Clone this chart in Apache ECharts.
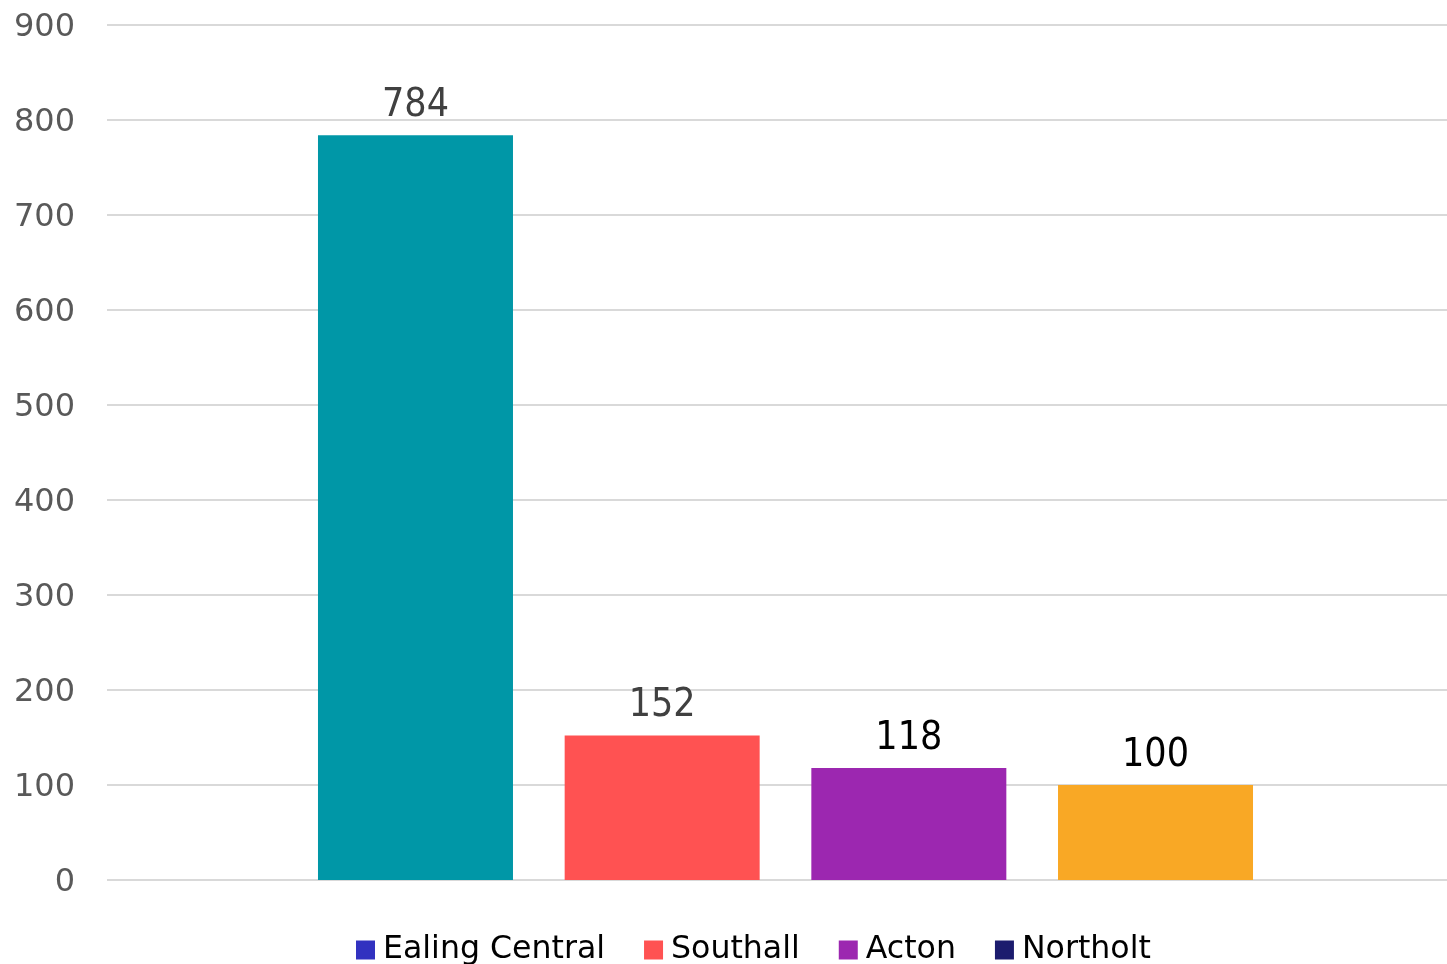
<!DOCTYPE html>
<html>
<head>
<meta charset="utf-8">
<script src="https://cdn.jsdelivr.net/npm/echarts@6/dist/echarts.min.js"></script>
<style>
html,body{margin:0;padding:0;background:#fff;}
#chart{width:1447px;height:964px;}
</style>
</head>
<body>
<div id="chart"></div>
<script>
var seriesNames = ['Ealing Central', 'Southall', 'Acton', 'Northolt'];
var values = [784, 152, 118, 100];
var barColors = ['#0097A7', '#FF5252', '#9C27B0', '#F9A825'];
var legendColors = ['#3232C0', '#FF5252', '#9C27B0', '#1C1C6E'];
var labelColors = ['#404040', '#404040', '#000000', '#000000'];
var yTicks = [0, 100, 200, 300, 400, 500, 600, 700, 800, 900];

var chart = echarts.init(document.getElementById('chart'));
var series = seriesNames.map(function (n, i) {
  return {
    name: n,
    type: 'bar',
    xAxisIndex: 1,
    yAxisIndex: 1,
    barWidth: 195,
    barGap: '26.5%',
    itemStyle: { color: legendColors[i] },
    data: [{ value: values[i], itemStyle: { color: barColors[i] } }],
    label: {
      show: true,
      position: 'top',
      distance: 10,
      color: labelColors[i],
      fontSize: 39,
      fontFamily: "'DejaVu Sans Condensed', 'DejaVu Sans', sans-serif"
    }
  };
});

chart.setOption({
  animation: false,
  backgroundColor: '#ffffff',
  grid: [
    { left: 107, right: 0, top: 25, bottom: 84 },
    { left: 124, right: 0, top: 25, bottom: 84 }
  ],
  legend: {
    data: seriesNames,
    left: 351,
    top: 929,
    itemWidth: 19,
    itemHeight: 19,
    itemGap: 39,
    icon: 'rect',
    textStyle: { fontSize: 31.6, color: '#000', fontFamily: "'DejaVu Sans', sans-serif", padding: [0, 0, 0, 3] }
  },
  xAxis: [
    { type: 'category', gridIndex: 0, data: [''], show: false },
    { type: 'category', gridIndex: 1, data: [''], show: false }
  ],
  yAxis: [
    {
      type: 'value', gridIndex: 0, min: yTicks[0], max: yTicks[yTicks.length - 1], interval: 100,
      axisLine: { show: false }, axisTick: { show: false },
      axisLabel: {
        margin: 32, color: '#595959', verticalAlign: 'middle',
        formatter: function (v) { return '{t|' + v + '}'; },
        rich: { t: { fontSize: 32, color: '#595959', fontFamily: "'DejaVu Sans', sans-serif", padding: [6, 0, 0, 0] } }
      },
      splitLine: { lineStyle: { color: '#D9D9D9', width: 2 } }
    },
    {
      type: 'value', gridIndex: 1, min: 0, max: 900, interval: 100, show: false,
      splitLine: { show: false }
    }
  ],
  series: series
});
</script>
</body>
</html>
